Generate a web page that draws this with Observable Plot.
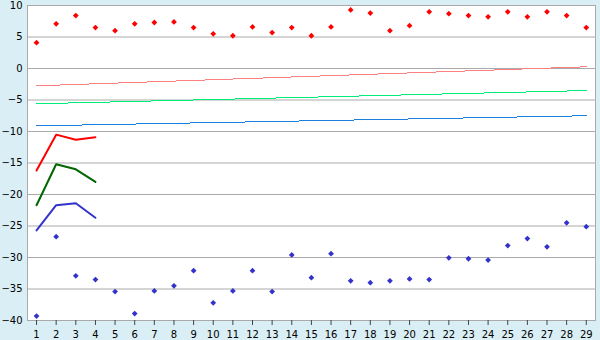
<!DOCTYPE html>
<html><head><meta charset="utf-8">
<script src="https://cdn.jsdelivr.net/npm/d3@7"></script>
<script src="https://cdn.jsdelivr.net/npm/@observablehq/plot@0.6"></script>
<style>body{margin:0;background:#daeff5}</style>
</head><body><div id="chart"></div>
<script>
const days = [1,2,3,4,5,6,7,8,9,10,11,12,13,14,15,16,17,18,19,20,21,22,23,24,25,26,27,28,29];
const redPoints = [4.1,7.1,8.4,6.5,6.0,7.1,7.3,7.4,6.5,5.5,5.2,6.6,5.7,6.5,5.2,6.6,9.3,8.8,6.0,6.8,9.0,8.7,8.4,8.2,9.0,8.2,9.0,8.4,6.5];
const bluePoints = [-39.3,-26.7,-32.9,-33.5,-35.4,-38.9,-35.3,-34.5,-32.1,-37.2,-35.3,-32.1,-35.4,-29.6,-33.2,-29.4,-33.7,-34.0,-33.7,-33.4,-33.5,-30.05,-30.2,-30.4,-28.1,-27.0,-28.3,-24.5,-25.1];
const lineX = [1,2,3,4];
const redLine = [-16.2,-10.5,-11.3,-10.9];
const greenLine = [-21.7,-15.2,-16.0,-18.0];
const blueLine = [-25.7,-21.7,-21.4,-23.7];
const trendX = [1,29];
const pinkTrend = [-2.75,0.27];
const greenTrend = [-5.6,-3.5];
const blueTrend = [-9.1,-7.5];
const yTicks = [-40,-35,-30,-25,-20,-15,-10,-5,0,5,10];

const pts = (xs, ys) => xs.map((x,i)=>({x, y: ys[i]}));

const chart = Plot.plot({
  width: 600, height: 340,
  marginLeft: 27, marginRight: 5, marginTop: 5, marginBottom: 20,
  style: {background: "#daeff5", fontFamily: "DejaVu Sans", fontSize: "10px", color: "#000"},
  x: {domain: [0.54, 29.47], label: null},
  y: {domain: [-40, 10], label: null},
  marks: [
    Plot.frame({fill: "white", stroke: null}),
    Plot.gridY(yTicks, {stroke: "#aaa", strokeOpacity: 1}),
    Plot.frame({stroke: "#aaa"}),
    Plot.axisX(days, {tickSize: 5, tickPadding: 5, stroke: "#444", tickFormat: d => String(d), fill: "#000"}),
    Plot.axisY(yTicks, {tickSize: 0, tickPadding: 5, fill: "#000"}),
    Plot.line(pts(trendX, pinkTrend), {x: "x", y: "y", stroke: "#ff8080", strokeWidth: 1, shapeRendering: "crispEdges"}),
    Plot.line(pts(trendX, greenTrend), {x: "x", y: "y", stroke: "#00ee77", strokeWidth: 1, shapeRendering: "crispEdges"}),
    Plot.line(pts(trendX, blueTrend), {x: "x", y: "y", stroke: "#1a80e0", strokeWidth: 1, shapeRendering: "crispEdges"}),
    Plot.line(pts(lineX, redLine), {x: "x", y: "y", stroke: "#ff0000", strokeWidth: 2}),
    Plot.line(pts(lineX, greenLine), {x: "x", y: "y", stroke: "#006600", strokeWidth: 2}),
    Plot.line(pts(lineX, blueLine), {x: "x", y: "y", stroke: "#3333cc", strokeWidth: 2}),
    Plot.dot(pts(days, redPoints), {x: "x", y: "y", symbol: "diamond2", r: 2.6, fill: "#ff0000", stroke: null}),
    Plot.dot(pts(days, bluePoints), {x: "x", y: "y", symbol: "diamond2", r: 2.6, fill: "#3333cc", stroke: null})
  ]
});
document.getElementById("chart").appendChild(chart);
</script>
</body></html>
